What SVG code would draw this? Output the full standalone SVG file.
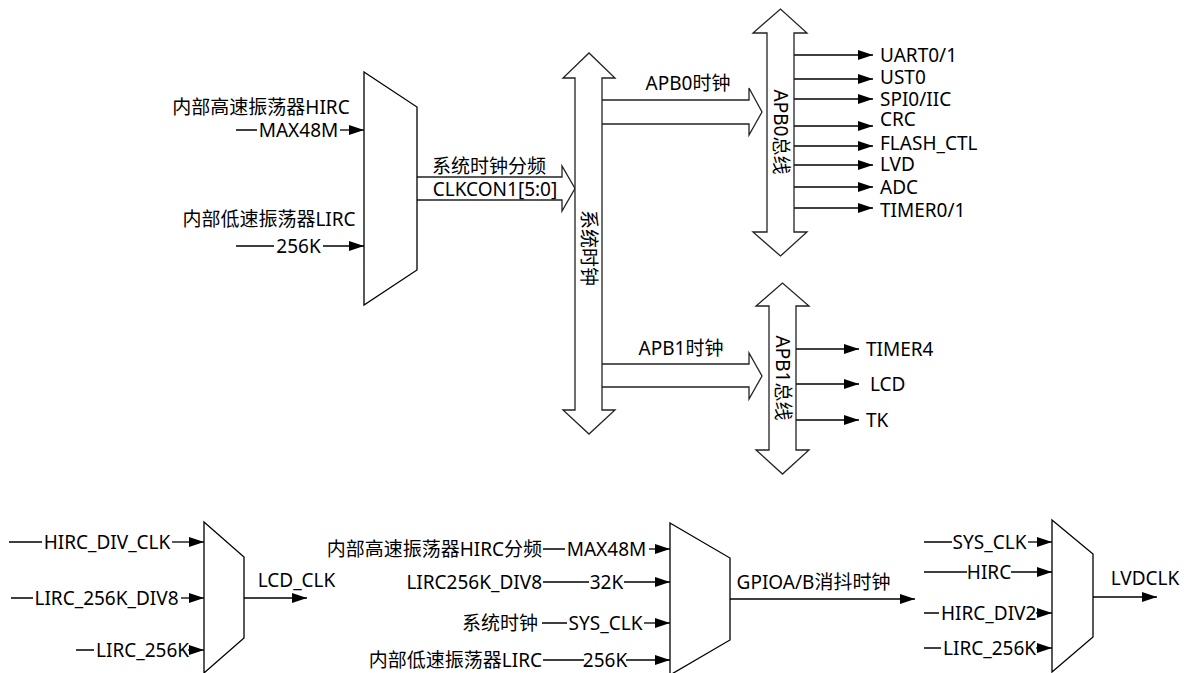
<svg xmlns="http://www.w3.org/2000/svg" width="1184" height="673" viewBox="0 0 1184 673">
<defs>
<marker id="ah" viewBox="0 0 15 10" refX="15" refY="5" markerWidth="15" markerHeight="10" markerUnits="userSpaceOnUse" orient="auto">
<path d="M0,0 L15,5 L0,10 z" fill="#000"/>
</marker>
<style>
text{font-family:"Noto Sans","Noto Sans CJK SC",sans-serif;font-size:19px;fill:#000;dominant-baseline:central}
.m{text-anchor:middle}
.e{text-anchor:end}
.ln{fill:none;stroke:#000;stroke-width:1.3}
.hd{fill:none;stroke:#000;stroke-width:1.3;marker-end:url(#ah)}
.mux{fill:#fff;stroke:#000;stroke-width:1.3}
.big{fill:#fff;stroke:#222;stroke-width:1.3;stroke-linejoin:miter}
</style>
</defs>
<rect width="1184" height="673" fill="#fff"/>

<g id="connectors">
<!-- hollow bus arrows -->
<path class="big" d="M417,177 H562 V166 L575,188.5 L562,211 V200 H417"/>
<path class="big" d="M602,100 H749 V88 L762,112 L749,135 V124 H602"/>
<path class="big" d="M602,364 H749 V353 L762,376 L749,399 V387 H602"/>
<text class="m" x="489" y="166">系统时钟分频</text>
<text class="m" x="495" y="188.5">CLKCON1[5:0]</text>
<text class="m" x="688" y="83">APB0时钟</text>
<text class="m" x="681" y="348">APB1时钟</text>

<!-- lead-in line pieces -->
<path class="ln" d="M236,130 H257 M236,246 H274"/>
<path class="ln" d="M9,542 H42 M11,598 H33 M76,650 H94"/>
<path class="ln" d="M543,549 H565 M543,582 H589 M542,623 H567 M543,660 H584"/>
<path class="ln" d="M924,542 H952 M924,572 H967 M924,613 H939 M924,648 H941"/>

<!-- inline labels -->
<text class="m" x="298.5" y="130">MAX48M</text>
<text class="m" x="298.5" y="246">256K</text>
<text class="m" x="107" y="542">HIRC_DIV_CLK</text>
<text class="m" x="106.5" y="598">LIRC_256K_DIV8</text>
<text x="96" y="650">LIRC_256K</text>
<text class="m" x="606.5" y="549">MAX48M</text>
<text class="m" x="606.5" y="582">32K</text>
<text class="m" x="605.5" y="623">SYS_CLK</text>
<text class="m" x="605" y="660">256K</text>
<text class="m" x="989.5" y="542">SYS_CLK</text>
<text class="m" x="989" y="572">HIRC</text>
<text x="941" y="613">HIRC_DIV2</text>
<text x="943" y="648">LIRC_256K</text>

<!-- arrows into muxes -->
<path class="hd" d="M340,130 H364"/>
<path class="hd" d="M323,246 H364"/>
<path class="hd" d="M172,542 H204"/>
<path class="hd" d="M181,598 H204"/>
<path class="hd" d="M188,650 H204"/>
<path class="hd" d="M649,549 H670"/>
<path class="hd" d="M624,582 H670"/>
<path class="hd" d="M644,623 H670"/>
<path class="hd" d="M626,660 H670"/>
<path class="hd" d="M1028,542 H1052"/>
<path class="hd" d="M1011,572 H1052"/>
<path class="hd" d="M1036,613 H1052"/>
<path class="hd" d="M1036,648 H1052"/>

<!-- outputs -->
<path class="hd" d="M794,55 H873"/>
<path class="hd" d="M794,79 H873"/>
<path class="hd" d="M794,99 H873"/>
<path class="hd" d="M794,126 H873"/>
<path class="hd" d="M794,146 H873"/>
<path class="hd" d="M794,165 H873"/>
<path class="hd" d="M794,187 H873"/>
<path class="hd" d="M794,208 H873"/>
<path class="hd" d="M796,349 H859"/>
<path class="hd" d="M796,384 H859"/>
<path class="hd" d="M796,420 H859"/>
<path class="hd" d="M244,598 H307"/>
<path class="hd" d="M730,599 H915"/>
<path class="hd" d="M1093,597 H1157"/>
</g>

<g id="mux-sys">
<polygon class="mux" points="364,72 417,107 417,270 364,305"/>
<text class="m" x="261" y="107">内部高速振荡器HIRC</text>
<text class="m" x="269" y="219">内部低速振荡器LIRC</text>
</g>

<g id="sysclk-bus">
<polygon class="big" points="575,78 563,78 589,53 615,78 602,78 602,410 615,410 589,434 563,410 575,410"/>
<text class="m" transform="translate(588.5,248) rotate(90)">系统时钟</text>
</g>

<g id="apb0-bus">
<polygon class="big" points="767,33 753,33 780.5,9 807,33 794,33 794,232 807,232 780.5,256 753,232 767,232"/>
<text class="m" transform="translate(780.5,132) rotate(90)">APB0总线</text>
</g>

<g id="apb0-peripherals">
<text x="880" y="55">UART0/1</text>
<text x="880" y="77">UST0</text>
<text x="880" y="99">SPI0/IIC</text>
<text x="880" y="119">CRC</text>
<text x="880" y="143">FLASH_CTL</text>
<text x="880" y="164">LVD</text>
<text x="880" y="187">ADC</text>
<text x="880" y="210">TIMER0/1</text>
</g>

<g id="apb1-bus">
<polygon class="big" points="769,306 756,306 782.5,283 809,306 796,306 796,450 809,450 782.5,474 756,450 769,450"/>
<text class="m" transform="translate(782.5,378) rotate(90)">APB1总线</text>
</g>

<g id="apb1-peripherals">
<text x="866" y="349">TIMER4</text>
<text x="870" y="384">LCD</text>
<text x="866" y="420">TK</text>
</g>

<g id="mux-lcd">
<polygon class="mux" points="204,522 244,557 244,638 204,673"/>
<text class="m" x="296.5" y="580">LCD_CLK</text>
</g>

<g id="mux-gpio">
<polygon class="mux" points="670,523 730,558 730,640 670,675"/>
<text class="e" x="542" y="549">内部高速振荡器HIRC分频</text>
<text class="e" x="542" y="582">LIRC256K_DIV8</text>
<text class="e" x="538" y="623">系统时钟</text>
<text class="e" x="542" y="660">内部低速振荡器LIRC</text>
<text class="m" x="813.5" y="582">GPIOA/B消抖时钟</text>
</g>

<g id="mux-lvd">
<polygon class="mux" points="1052,520 1093,554 1093,637 1052,672"/>
<text class="m" x="1145" y="578">LVDCLK</text>
</g>
</svg>
